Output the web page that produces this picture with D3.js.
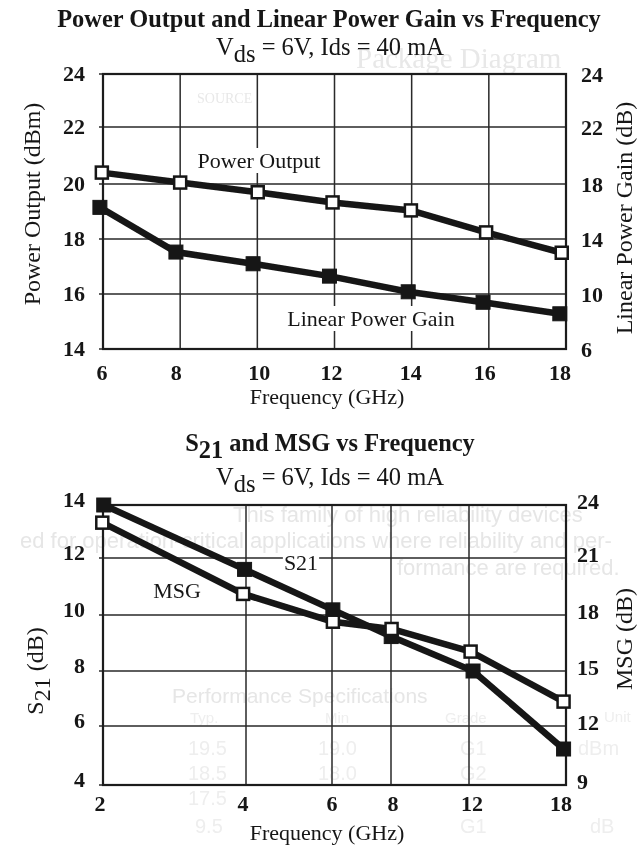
<!DOCTYPE html>
<html>
<head>
    <meta charset="utf-8">
    <style>
        body { margin: 0; background: #fff; }
        svg { display: block; }
        text { font-family: "Liberation Serif", serif; fill: #151515; }
        .grid line { stroke: #2a2a2a; stroke-width: 1.5px; }
        .frame { fill: none; stroke: #1a1a1a; stroke-width: 2.2px; }
        .series { fill: none; stroke: #151515; stroke-width: 6.5px; stroke-linejoin: miter; }
        .tick-label { font-size: 22px; font-weight: bold; }
        .axis-title { font-size: 24px; }
        .freq-title { font-size: 22px; }
        .title { font-size: 24.4px; font-weight: bold; }
        .subtitle { font-size: 24.5px; }
        .note { font-size: 22px; }
        text.ghost { font-family: "Liberation Sans", sans-serif; fill: #e6e6e6; }
        text.ghost-faint { font-family: "Liberation Sans", sans-serif; fill: #eeeeee; }
        text.ghost-serif { font-family: "Liberation Serif", serif; fill: #e8e8e8; }
    </style>
</head>
<body>
<div id="chart"></div>
<script src="https://cdnjs.cloudflare.com/ajax/libs/d3/7.8.5/d3.min.js"></script>
<script>

    // top chart
    var powerTicks = [14, 16, 18, 20, 22, 24];
    var gainTicks = [6, 10, 14, 18, 22, 24];
    var freqTicksTop = [6, 8, 10, 12, 14, 16, 18];
    var powerFreq = [5.97, 8.0, 10.01, 11.95, 13.98, 15.93, 17.89];
    var powerOutput = [20.4, 20.05, 19.7, 19.33, 19.04, 18.24, 17.5];
    var gainFreq = [5.92, 7.89, 9.89, 11.87, 13.91, 15.85, 17.84];
    var linearGain = [16.3, 13.05, 12.2, 11.3, 10.16, 9.4, 8.56];

    // bottom chart
    var s21Ticks = [4, 6, 8, 10, 12, 14];
    var msgTicks = [9, 12, 15, 18, 21, 24];
    var freqTicksBottom = [2, 4, 6, 8, 12, 18];
    var s21Freq = [2.01, 3.98, 6.03, 8.01, 12.25, 17.85];
    var s21 = [14, 11.6, 10.18, 9.23, 8.0, 5.22];
    var msgFreq = [1.99, 3.96, 6.03, 8.03, 12.1, 17.85];
    var msg = [23, 19.11, 17.64, 17.25, 16.04, 13.33];

    // show-through from the other side of the scanned page
    var ghostText = ["Package Diagram", "SOURCE",
        "This family of high reliability devices",
        "ed for operation-critical applications where reliability and per-",
        "formance are required.",
        "Performance Specifications", "Typ.", "Min", "Grade", "Unit",
        "19.5", "19.0", "G1", "dBm",
        "18.5", "18.0", "G2",
        "17.5",
        "9.5", "G1", "dB"];

    var width = 638;
    var height = 846;

    var ghostPlace = [
        [356, 68, 29, "ghost-serif"], [197, 103, 14, "ghost-serif"],
        [233, 522, 22, "ghost"], [20, 548, 22, "ghost"], [397, 575, 22, "ghost"],
        [172, 703, 21, "ghost"], [190, 723, 15, "ghost-faint"], [325, 723, 15, "ghost-faint"], [445, 723, 15, "ghost-faint"], [604, 722, 15, "ghost-faint"],
        [188, 755, 20, "ghost-faint"], [318, 755, 20, "ghost-faint"], [460, 755, 20, "ghost-faint"], [578, 755, 20, "ghost-faint"],
        [188, 780, 20, "ghost-faint"], [318, 780, 20, "ghost-faint"], [460, 780, 20, "ghost-faint"],
        [188, 805, 20, "ghost-faint"],
        [195, 833, 20, "ghost-faint"], [460, 833, 20, "ghost-faint"], [590, 833, 20, "ghost-faint"]
    ];

    var svg = d3.select("#chart").append("svg")
        .attr("width", width)
        .attr("height", height);

    svg.append("defs").append("filter").attr("id", "scan")
        .append("feGaussianBlur").attr("stdDeviation", 0.6);

    var root = svg.append("g").attr("filter", "url(#scan)");

    root.append("g").selectAll("text")
        .data(ghostText)
        .enter().append("text")
        .attr("class", function (d, i) { return ghostPlace[i][3]; })
        .attr("x", function (d, i) { return ghostPlace[i][0]; })
        .attr("y", function (d, i) { return ghostPlace[i][1]; })
        .style("font-size", function (d, i) { return ghostPlace[i][2] + "px"; })
        .text(function (d) { return d; });

    function drawPanel(opt) {
        var g = root.append("g");
        var x = opt.x, yL = opt.yLeft, yR = opt.yRight;
        var x0 = x.range()[0], x1 = x.range()[x.range().length - 1];
        var y0 = yL.range()[0], y1 = yL.range()[yL.range().length - 1];

        var grid = g.append("g").attr("class", "grid");
        grid.selectAll("line.v").data(opt.xTicks).enter().append("line")
            .attr("class", "v")
            .attr("x1", x).attr("x2", x).attr("y1", y0).attr("y2", y1);
        grid.selectAll("line.h").data(opt.leftTicks).enter().append("line")
            .attr("class", "h")
            .attr("x1", x0 - 4).attr("x2", x1)
            .attr("y1", yL).attr("y2", yL);

        g.append("rect").attr("class", "frame")
            .attr("x", x0).attr("y", y1)
            .attr("width", x1 - x0).attr("height", y0 - y1);

        // tick labels, the scan has them a little off their grid lines
        g.selectAll("text.xl").data(opt.xTicks).enter().append("text")
            .attr("class", "tick-label xl")
            .attr("text-anchor", "middle")
            .attr("x", function (d, i) { return x(d) + opt.xNudge[i]; })
            .attr("y", y0 + opt.xLabelDy)
            .text(function (d) { return d; });
        g.selectAll("text.yl").data(opt.leftTicks).enter().append("text")
            .attr("class", "tick-label yl")
            .attr("text-anchor", "end")
            .attr("x", x0 - 18)
            .attr("y", function (d) { return yL(d) + opt.leftDy; })
            .text(function (d) { return d; });
        g.selectAll("text.yr").data(opt.rightTicks).enter().append("text")
            .attr("class", "tick-label yr")
            .attr("x", opt.rightX)
            .attr("y", function (d) { return yR(d) + opt.rightDy; })
            .text(function (d) { return d; });

        opt.series.forEach(function (s) {
            var pts = s.freq.map(function (f, i) {
                return [x(f), s.y(s.values[i])];
            });
            g.append("path").attr("class", "series")
                .attr("d", d3.line()(pts));
            var size = s.open ? 12 : 14;
            g.selectAll("rect.m" + s.name).data(pts).enter().append("rect")
                .attr("class", "m" + s.name)
                .attr("x", function (d) { return d[0] - size / 2; })
                .attr("y", function (d) { return d[1] - size / 2; })
                .attr("width", size).attr("height", size)
                .attr("fill", s.open ? "#fff" : "#151515")
                .attr("stroke", "#151515")
                .attr("stroke-width", s.open ? 2.5 : 1);
        });
    }

    function addText(cls, x, y, str, rotate) {
        var t = root.append("text").attr("class", cls)
            .attr("text-anchor", "middle");
        if (rotate) {
            t.attr("transform", "translate(" + x + "," + y + ") rotate(-90)");
        } else {
            t.attr("x", x).attr("y", y);
        }
        if (str) t.text(str);
        return t;
    }

    function addSub(t, main, sub, rest) {
        t.append("tspan").text(main);
        t.append("tspan").attr("dy", 7).text(sub);
        t.append("tspan").attr("dy", -7).text(rest);
    }

    // series labels sit on a white patch that breaks the grid lines
    function addNote(x, y, str) {
        var patch = root.append("rect").attr("fill", "#fff");
        var t = addText("note", x, y, str);
        var box = t.node().getBBox();
        patch.attr("x", box.x - 1).attr("y", box.y)
            .attr("width", box.width + 2).attr("height", box.height);
    }

    // top chart
    var gridTop = [349, 294, 239, 184, 127, 74];
    var xTop = d3.scaleLinear().domain([6, 18]).range([103, 566]);
    var yPower = d3.scaleLinear().domain(powerTicks).range(gridTop);
    // the printed right axis jumps from 22 straight to 24 over one full grid step
    var yGain = d3.scaleLinear().domain(gainTicks).range(gridTop);

    drawPanel({
        x: xTop, yLeft: yPower, yRight: yGain,
        xTicks: freqTicksTop, leftTicks: powerTicks, rightTicks: gainTicks,
        xNudge: [-1, -4, 2, -3, -1, -4, -6], xLabelDy: 31,
        leftDy: 7, rightDy: 8, rightX: 581,
        series: [
            {name: "power", freq: powerFreq, values: powerOutput, y: yPower, open: true},
            {name: "gain", freq: gainFreq, values: linearGain, y: yGain, open: false}
        ]
    });

    addText("title", 329, 27, "Power Output and Linear Power Gain vs Frequency");
    addSub(addText("subtitle", 330, 55), "V", "ds", " = 6V, Ids = 40 mA");
    addText("axis-title", 40, 204, "Power Output (dBm)", true);
    addText("axis-title", 632, 218, "Linear Power Gain (dB)", true);
    addText("freq-title", 327, 404, "Frequency (GHz)");
    addNote(259, 168, "Power Output");
    addNote(371, 326, "Linear Power Gain");

    // bottom chart
    var gridBottom = [785, 726, 671, 615, 558, 505];
    var xBottom = d3.scaleLinear().domain(freqTicksBottom).range([103, 246, 332, 391, 469, 566]);
    var yS21 = d3.scaleLinear().domain(s21Ticks).range(gridBottom);
    var yMsg = d3.scaleLinear().domain(msgTicks).range(gridBottom);

    drawPanel({
        x: xBottom, yLeft: yS21, yRight: yMsg,
        xTicks: freqTicksBottom, leftTicks: s21Ticks, rightTicks: msgTicks,
        xNudge: [-3, -3, 0, 2, 3, -5], xLabelDy: 26,
        leftDy: 2, rightDy: 4, rightX: 577,
        series: [
            {name: "s21", freq: s21Freq, values: s21, y: yS21, open: false},
            {name: "msg", freq: msgFreq, values: msg, y: yMsg, open: true}
        ]
    });

    addSub(addText("title", 330, 451), "S", "21", " and MSG vs Frequency");
    addSub(addText("subtitle", 330, 485), "V", "ds", " = 6V, Ids = 40 mA");
    addSub(addText("axis-title", 43, 671, null, true), "S", "21", " (dB)");
    addText("axis-title", 632, 639, "MSG (dB)", true);
    addText("freq-title", 327, 840, "Frequency (GHz)");
    addNote(301, 570, "S21");
    addNote(177, 598, "MSG");

</script>
</body>
</html>
